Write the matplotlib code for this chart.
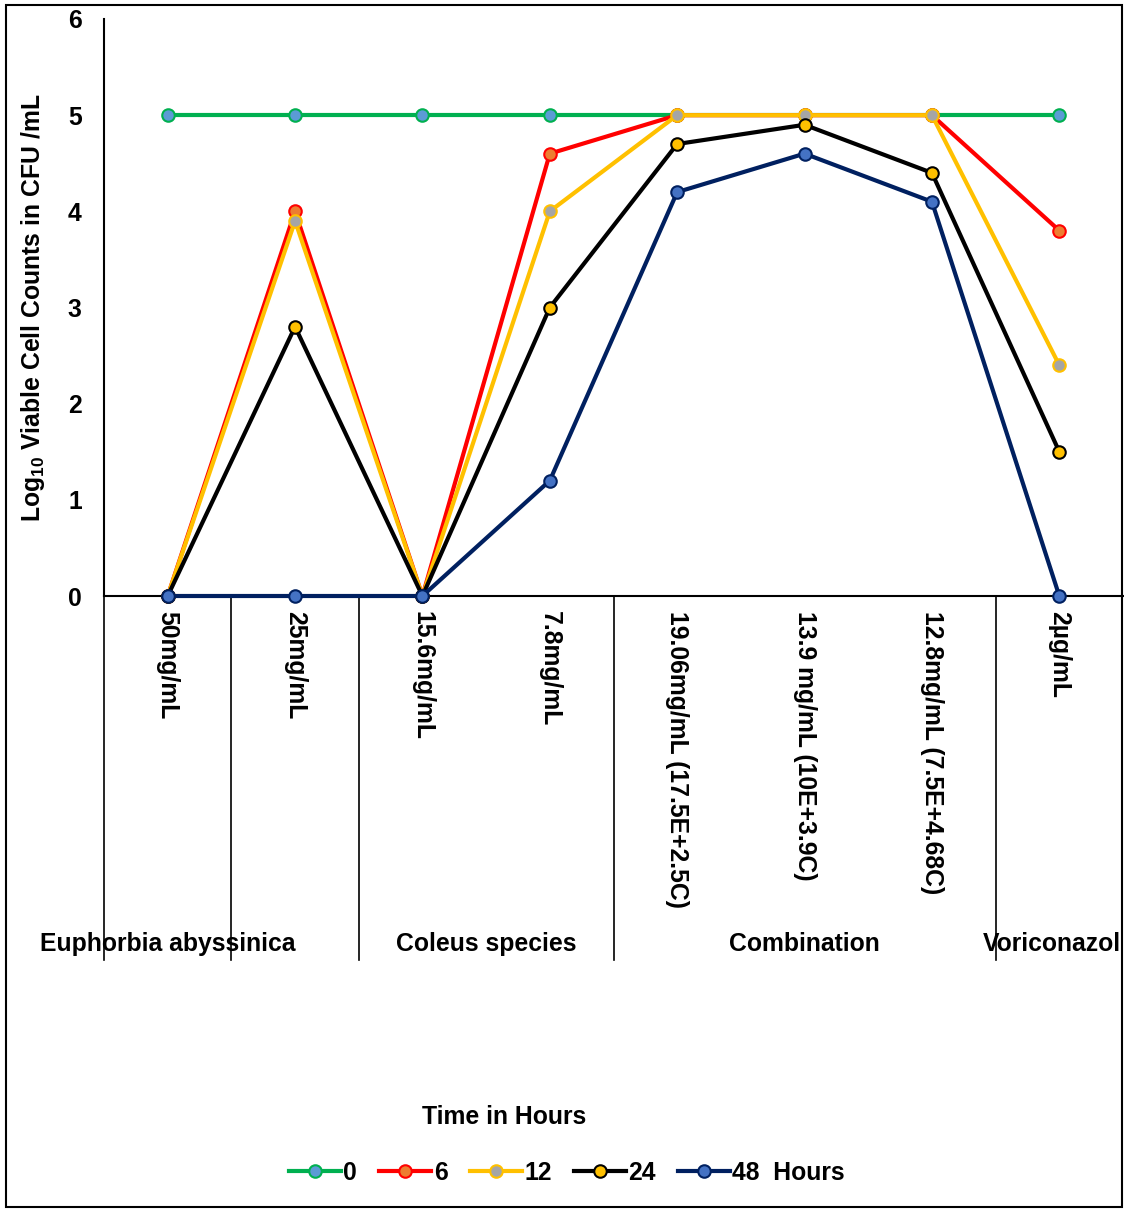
import matplotlib
matplotlib.use("Agg")
import matplotlib.pyplot as plt
from matplotlib.patches import Rectangle

plt.rcParams['font.family'] = ['Liberation Sans', 'DejaVu Sans']
plt.rcParams['font.weight'] = 'bold'
plt.rcParams['mathtext.fontset'] = 'custom'
plt.rcParams['mathtext.rm'] = 'Liberation Sans:bold'
plt.rcParams['mathtext.bf'] = 'Liberation Sans:bold'
plt.rcParams['mathtext.it'] = 'Liberation Sans:bold'

categories = ["50mg/mL", "25mg/mL", "15.6mg/mL", "7.8mg/mL",
              "19.06mg/mL (17.5E+2.5C)", "13.9 mg/mL (10E+3.9C)",
              "12.8mg/mL (7.5E+4.68C)", "2µg/mL"]
groups = ["Euphorbia abyssinica", "Coleus species", "Combination", "Voriconazol"]
group_centers = [0, 2.5, 5, 6.94]
separators = [0.5, 1.5, 3.5, 6.5]

h0 = [5, 5, 5, 5, 5, 5, 5, 5]
h6 = [0, 4.0, 0, 4.6, 5, 5, 5, 3.8]
h12 = [0, 3.9, 0, 4.0, 5, 5, 5, 2.4]
h24 = [0, 2.8, 0, 3.0, 4.7, 4.9, 4.4, 1.5]
h48 = [0, 0, 0, 1.2, 4.2, 4.6, 4.1, 0]
series_labels = ["0", "6", "12", "24", "48  Hours"]

styles = [
    ("#00B050", "#5B9BD5", "#00B050"),
    ("#FF0000", "#ED7D31", "#FF0000"),
    ("#FFC000", "#A5A5A5", "#FFC000"),
    ("#000000", "#FFC000", "#000000"),
    ("#002060", "#4472C4", "#002060"),
]

FS = 17.8
W, H = 1124, 1209
fig = plt.figure(figsize=(W / 100, H / 100), dpi=100)
ax = fig.add_axes([104 / W, 1 - 596 / H, (1123 - 104) / W, (596 - 19) / H])

x = list(range(len(categories)))
for vals, lab, (lc, fc, ec) in zip([h0, h6, h12, h24, h48], series_labels, styles):
    ax.plot(x, vals, color=lc, lw=3, marker='o', ms=9, mfc=fc, mec=ec, mew=1.5,
            label=lab, clip_on=False, zorder=3)

ax.set_xlim(-0.5, 7.5)
ax.set_ylim(0, 6)
ax.set_yticks(range(7))
ax.set_yticklabels([str(i) for i in range(7)], fontsize=FS, fontweight='bold')
ax.tick_params(axis='y', length=0, pad=16)
ax.set_xticks(x)
ax.set_xticklabels(categories, rotation=-90, fontsize=FS, fontweight='bold', va='top')
ax.tick_params(axis='x', length=0, pad=11)

for s in ['top', 'right']:
    ax.spines[s].set_visible(False)
ax.spines['left'].set_linewidth(1.5)
ax.spines['bottom'].set_linewidth(1.5)

ax.set_ylabel("Log$_{10}$ Viable Cell Counts in CFU /mL", fontsize=FS, fontweight='bold')
ax.yaxis.set_label_coords(-(104 - 47) / (1123 - 104), 0.5)

trans = ax.get_xaxis_transform()
ybot = (596 - 960) / (596 - 19)
ax.plot([-0.5, -0.5], [0, ybot], color='black', lw=1.2, transform=trans, clip_on=False)
for s in separators:
    ax.plot([s, s], [0, ybot], color='black', lw=1.2, transform=trans, clip_on=False)

ylab = (596 - 944) / (596 - 19)
for g, c in zip(groups, group_centers):
    ax.text(c, ylab, g, transform=trans, ha='center', va='center', fontsize=FS, fontweight='bold')

fig.text(504 / W, 1 - 1117 / H, "Time in Hours", ha='center', va='center', fontsize=FS, fontweight='bold')

fig.legend(loc='center', bbox_to_anchor=(567 / W, 1 - 1173 / H), ncol=5, frameon=False,
           prop={'size': FS, 'weight': 'bold'}, handlelength=2.1, handletextpad=0.1,
           columnspacing=0.9)

fig.patches.append(Rectangle((6 / W, 1 - 1207 / H), (1122 - 6) / W, (1207 - 5) / H,
                             transform=fig.transFigure, fill=False, ec='black', lw=1.5))

fig.savefig("out.png", dpi=100)
